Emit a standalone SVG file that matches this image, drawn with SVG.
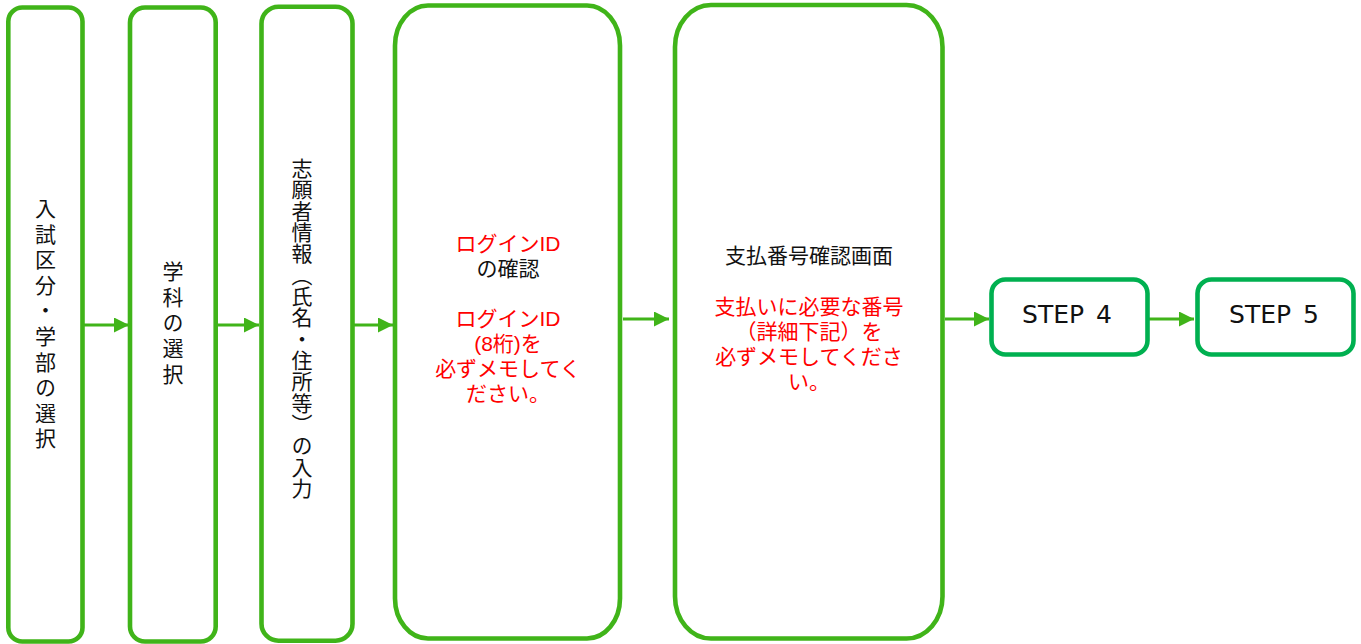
<svg xmlns="http://www.w3.org/2000/svg" width="1361" height="644" viewBox="0 0 1361 644">
<style>
.box{fill:#fff;stroke:#40B419;stroke-width:4.6}
.step{fill:#fff;stroke:#00B050;stroke-width:4.6}
.conn{stroke:#40B419;stroke-width:3;fill:none}
.jp{font-family:"Liberation Sans","Noto Sans CJK JP",sans-serif;font-size:21px;fill:#111;text-anchor:middle}
.vt{font-family:"Noto Sans CJK JP",sans-serif;font-size:21px;fill:#111;writing-mode:vertical-rl;text-anchor:start}
.nv{font-feature-settings:"vert" 0}
.red{fill:#FF0000}
.st{font-family:"DejaVu Sans","Verdana",sans-serif;font-size:25px;fill:#111;text-anchor:middle}
</style>
<defs>
<marker id="ah" markerUnits="userSpaceOnUse" markerWidth="15" markerHeight="15" refX="15" refY="7.5" orient="auto">
<path d="M0,0 L15,7.5 L0,15 z" fill="#40B419"/>
</marker>
</defs>
<rect width="1361" height="644" fill="#fff"/>

<g id="connectors">
<path class="conn" d="M84,325 H129" marker-end="url(#ah)"/>
<path class="conn" d="M218,325 H259" marker-end="url(#ah)"/>
<path class="conn" d="M348,325 H393" marker-end="url(#ah)"/>
<path class="conn" d="M623,319 H669" marker-end="url(#ah)"/>
<path class="conn" d="M945,319 H989" marker-end="url(#ah)"/>
<path class="conn" d="M1148,319 H1194" marker-end="url(#ah)"/>
</g>

<g id="node1">
<rect class="box" x="8.3" y="7.5" width="74.2" height="634" rx="14" ry="14"/>
<text class="vt" x="45.5" y="197.5" letter-spacing="4.6">入試区分・学部の選択</text>
</g>

<g id="node2">
<rect class="box" x="130" y="7.5" width="85.7" height="634" rx="15" ry="15"/>
<text class="vt" x="173" y="260.5" letter-spacing="4.75">学科の選択</text>
</g>

<g id="node3">
<rect class="box" x="261.5" y="6.7" width="91" height="634" rx="17" ry="17"/>
<text class="vt" x="302" y="157.5" letter-spacing="0.33">志願者情報<tspan class="nv">（</tspan>氏名・住所等<tspan class="nv">）</tspan>の入力</text>
</g>

<g id="node4">
<rect class="box" x="395" y="5.5" width="225" height="633" rx="33" ry="40"/>
<text class="jp"><tspan class="red" x="508" y="251">ログインID</tspan><tspan x="508" y="276">の確認</tspan><tspan class="red" x="508" y="326">ログインID</tspan><tspan class="red" x="508" y="351">(8桁)を</tspan><tspan class="red" x="508" y="376">必ずメモしてく</tspan><tspan class="red" x="508" y="401">ださい。</tspan></text>
</g>

<g id="node5">
<rect class="box" x="675" y="5" width="267.5" height="633.5" rx="36" ry="42"/>
<text class="jp"><tspan x="809" y="263">支払番号確認画面</tspan><tspan class="red" x="809" y="314">支払いに必要な番号</tspan><tspan class="red" x="809" y="339">（詳細下記）を</tspan><tspan class="red" x="809" y="364">必ずメモしてくださ</tspan><tspan class="red" x="809" y="389">い。</tspan></text>
</g>

<g id="node6">
<rect class="step" x="991.5" y="279.5" width="156" height="75" rx="14" ry="14"/>
<text class="st" x="1067" y="323">STEP <tspan dx="4">4</tspan></text>
</g>

<g id="node7">
<rect class="step" x="1197.5" y="279.5" width="156" height="75" rx="14" ry="14"/>
<text class="st" x="1274" y="323">STEP <tspan dx="4">5</tspan></text>
</g>
</svg>
